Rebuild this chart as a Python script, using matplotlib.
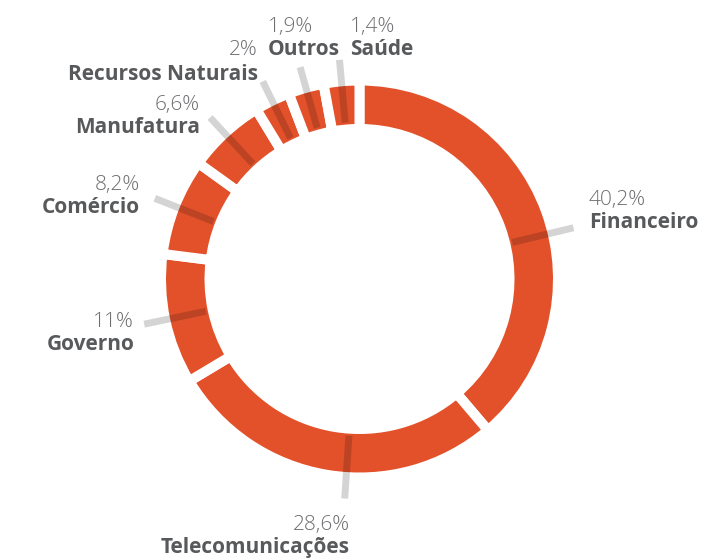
import numpy as np
import matplotlib.pyplot as plt

# data
sectors = ['Financeiro', 'Telecomunicações', 'Governo', 'Comércio',
           'Manufatura', 'Recursos Naturais', 'Outros', 'Saúde']
shares = [40.2, 28.6, 11, 8.2, 6.6, 2, 1.9, 1.4]
share_labels = ['40,2%', '28,6%', '11%', '8,2%', '6,6%', '2%', '1,9%', '1,4%']

ORANGE = '#E3512B'
NAME_COLOR = '#58595B'
PCT_COLOR = '#6D6E71'
W, H = 706, 558
FONT = 'Open Sans'

# small slices get a minimum arc so they stay visible, the rest is rescaled
MIN_SHARE = 2.9
vals = np.array(shares, float)
small = vals < MIN_SHARE
drawn = vals.copy()
drawn[small] = MIN_SHARE
drawn[~small] = vals[~small] * (100 - MIN_SHARE * small.sum()) / vals[~small].sum()

fig = plt.figure(figsize=(W / 100, H / 100), dpi=100)
ax = fig.add_axes([0, 0, 1, 1])

cx, cy = 359.5, 279
r_out, r_in = 198.5, 150
ax.pie(drawn, startangle=90, counterclock=False, colors=[ORANGE] * len(drawn),
       radius=r_out, center=(cx, cy),
       wedgeprops=dict(width=r_out - r_in, edgecolor='white', linewidth=7.2))

# leader lines at the middle of each arc (two nudged like in the original)
shift = [-6.7, 5.5, 0, 0, 0, 0, 0, 0]
cum = np.cumsum(drawn) - drawn / 2
mid = 90 - cum * 3.6 + np.array(shift)
for a in mid:
    t = np.radians(a)
    ax.plot([cx + 157 * np.cos(t), cx + 220 * np.cos(t)],
            [cy + 157 * np.sin(t), cy + 220 * np.sin(t)],
            color='black', alpha=0.17, lw=5, solid_capstyle='butt')

# label placement: x, name baseline (from top), alignment, pct offset
label_pos = [
    (589, 228, 'left', 0, -23),
    (350, 553, 'right', 0, -23),
    (135, 350, 'right', -1, -23),
    (140, 213, 'right', 0, -23),
    (200, 133, 'right', 0, -23),
    (258, 80, 'right', 0, -25),
    (268, 55, 'left', 0, -23),
    (350, 55, 'left', 0, -23),
]
for name, pct, (x, yb, ha, dx, dy) in zip(sectors, share_labels, label_pos):
    ax.text(x, H - yb, name, ha=ha, va='baseline', fontsize=15,
            fontweight='bold', color=NAME_COLOR, family=FONT)
    ax.text(x + dx, H - (yb + dy), pct, ha=ha, va='baseline', fontsize=15,
            fontweight='light', color=PCT_COLOR, family=FONT)

ax.set_xlim(0, W)
ax.set_ylim(0, H)
ax.set_aspect('equal')
ax.axis('off')
fig.savefig('out.png', dpi=100)
